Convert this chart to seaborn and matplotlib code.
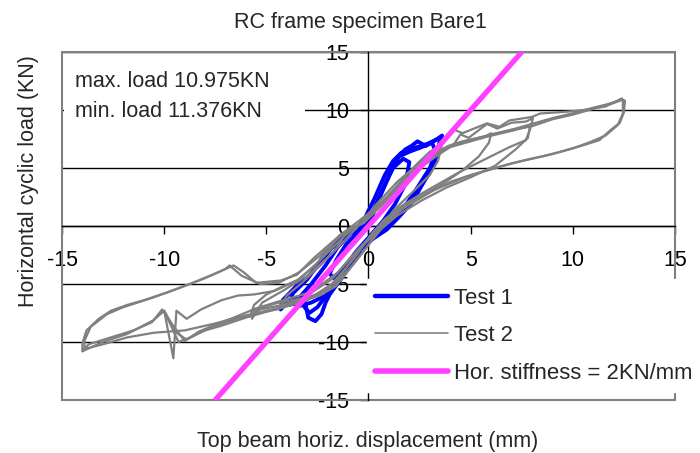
import matplotlib
matplotlib.use("Agg")
import matplotlib.pyplot as plt
import numpy as np
import pandas as pd
import seaborn as sns
from matplotlib.lines import Line2D
from matplotlib.patches import Rectangle

# ---------------- data ----------------
title = "RC frame specimen Bare1"
x_label = "Top beam horiz. displacement (mm)"
y_label = "Horizontal cyclic load (KN)"
note_lines = ["max. load 10.975KN", "min. load 11.376KN"]
legend_labels = ["Test 1", "Test 2", "Hor. stiffness = 2KN/mm"]
ticks = [-15, -10, -5, 0, 5, 10, 15]

# Test 1 (blue) hysteresis loops
t1_a_x = [0.0, 0.4, 0.9, 1.4, 1.8, 2.1, 2.4, 2.8, 3.2, 3.6, 3.5, 3.2, 2.7, 2.2, 1.5, 0.9, 0.3, -0.3, -0.8, -1.4,
          -1.9, -2.1, -2.3, -2.6, -2.95, -3.1, -3.6, -4.0, -4.3, -4.2, -3.6, -2.9, -2.2, -1.6, -1.1, -0.6, -0.2, 0.0]
t1_a_y = [0.2, 1.9, 3.9, 5.9, 6.6, 6.9, 7.3, 6.9, 7.3, 7.8, 6.9, 5.4, 3.8, 2.2, 0.8, -0.3, -1.0, -1.8, -3.2, -4.7,
          -5.9, -6.6, -7.6, -8.2, -7.9, -6.6, -6.2, -6.6, -7.2, -6.4, -5.3, -4.3, -2.8, -1.4, -0.6, -0.4, -0.3, 0.2]
t1_b_x = [0.0, 0.5, 1.0, 1.5, 2.0, 2.6, 3.1, 3.3, 3.0, 2.5, 1.9, 1.2, 0.5, -0.2, -0.9, -1.5, -2.1, -2.8, -3.4,
          -3.3, -2.8, -2.1, -1.5, -0.9, -0.4, 0.0]
t1_b_y = [0.0, 2.3, 4.4, 6.0, 6.4, 6.8, 7.2, 6.4, 5.0, 3.6, 2.0, 0.6, -0.5, -1.5, -3.2, -4.8, -6.0, -6.6, -6.9,
          -6.0, -5.0, -3.4, -1.8, -0.7, -0.2, 0.0]
t1_c_x = [0.0, 0.6, 1.2, 1.7, 2.0, 1.8, 1.3, 0.7, 0.0, -0.6, -1.2, -1.7, -1.9, -1.6, -1.1, -0.5, 0.0]
t1_c_y = [0.4, 2.8, 5.0, 5.8, 5.5, 3.6, 1.9, 0.4, -1.0, -2.2, -3.6, -4.5, -4.1, -3.0, -1.6, -0.5, 0.4]
t1_d_x = [-0.2, 0.3, 0.8, 1.2, 1.6, 2.2, 2.9, 3.5, 3.4, 3.0, 2.4, 1.8, 1.1, 0.4, -0.4, -1.0, -1.7, -2.2, -2.5,
          -2.9, -3.3, -3.9, -3.7, -3.0, -2.2, -1.3, -0.7, -0.2]
t1_d_y = [0.6, 2.4, 4.4, 5.6, 6.3, 6.7, 7.1, 7.6, 6.4, 4.6, 3.0, 1.4, 0.2, -0.8, -2.0, -3.6, -5.2, -6.3, -7.0,
          -7.5, -6.6, -6.8, -5.8, -4.6, -2.6, -1.0, -0.4, 0.6]

# Test 2 (grey) hysteresis loops
t2_a_x = [-1.1, -0.4, 0.1, 0.8, 1.6, 2.4, 3.0, 3.6, 3.4, 3.0, 2.2, 1.2, 0.6, 0.1, -0.6, -1.6, -2.4, -3.2, -4.0,
          -4.3, -4.0, -3.2, -2.3, -1.6, -1.1]
t2_a_y = [-0.6, 0.2, 0.9, 2.3, 3.9, 5.4, 6.4, 7.0, 5.6, 4.4, 3.0, 1.3, -0.3, -1.4, -3.0, -5.2, -6.0, -6.4, -6.7,
          -6.9, -6.0, -4.8, -3.3, -2.0, -0.6]
t2_b_x = [-1.2, -0.3, 0.4, 1.3, 2.3, 3.3, 4.0, 4.8, 5.6, 6.0, 5.9, 5.4, 4.6, 3.6, 2.6, 1.6, 0.8, 0.1, -0.8, -1.8,
          -3.0, -4.2, -5.3, -5.8, -5.6, -5.0, -4.3, -3.4, -2.4, -1.2]
t2_b_y = [-0.9, 0.4, 1.4, 3.0, 4.7, 6.0, 6.8, 7.2, 7.6, 8.0, 7.2, 6.0, 4.8, 3.6, 2.6, 1.4, 0.2, -1.4, -3.4, -5.3,
          -6.2, -6.8, -7.2, -7.8, -6.8, -5.9, -5.3, -4.6, -3.0, -0.9]
t2_c_x = [-1.4, -0.5, 0.3, 1.3, 2.3, 3.3, 4.2, 4.5, 4.9, 5.8, 6.3, 7.0, 7.7, 8.05, 7.9, 7.7, 6.9, 6.1, 5.3, 4.4,
          3.6, 2.6, 1.6, 0.8, 0.1, -0.6, -1.5, -2.6, -3.8, -5.0, -6.0, -7.0, -8.0, -8.7, -9.3, -10.0, -9.55, -9.4,
          -8.9, -8.2, -7.2, -6.4, -5.6, -4.6, -3.5, -2.6, -1.4]
t2_c_y = [-0.8, 0.4, 1.5, 3.2, 4.9, 6.2, 7.1, 7.9, 7.6, 8.8, 8.4, 8.9, 9.0, 9.3, 8.3, 7.4, 6.8, 6.1, 5.4, 4.6,
          3.8, 2.8, 1.7, 0.6, -0.8, -2.4, -4.6, -6.1, -6.8, -7.3, -7.8, -8.3, -9.0, -9.6, -10.0, -7.3, -11.4, -7.3,
          -8.0, -7.2, -6.4, -6.0, -5.9, -5.6, -4.7, -3.4, -0.8]
t2_d_x = [-0.1, 0.6, 1.5, 2.4, 3.2, 3.9, 4.6, 5.6, 6.8, 8.0, 9.0, 10.2, 11.0, 11.7, 12.4, 12.55, 12.5, 12.3, 11.8,
          11.3, 10.4, 9.4, 8.5, 7.7, 6.4, 4.8, 3.2, 1.5, 0.5, -0.4, -1.5, -2.8, -4.2, -5.5, -6.6, -7.5, -8.3, -8.9,
          -9.4, -10.0, -10.5, -11.8, -13.0, -13.5, -14.0, -14.0, -13.8, -13.2, -12.6, -11.8, -11.0, -9.8, -8.6,
          -7.5, -6.6, -6.1, -5.5, -4.3, -3.5, -2.7, -1.4, -0.1]
t2_d_y = [0.5, 1.7, 3.4, 5.0, 6.2, 6.9, 7.3, 7.7, 8.2, 8.8, 9.3, 9.8, 10.2, 10.5, 10.9, 10.8, 9.8, 8.9, 8.2, 7.4,
          6.9, 6.4, 6.0, 5.7, 5.1, 4.25, 3.1, 1.3, -0.2, -1.8, -4.0, -5.7, -6.4, -7.1, -7.9, -8.5, -9.1, -9.8, -9.2,
          -7.3, -8.1, -9.3, -10.0, -10.4, -10.8, -10.1, -9.0, -8.0, -7.3, -6.8, -6.4, -5.7, -4.9, -4.1, -3.4, -4.0,
          -4.9, -4.7, -4.2, -2.8, -0.8, 0.5]
t2_e_x = [-0.2, 0.5, 1.4, 2.5, 3.5, 4.3, 5.0, 6.0, 7.0, 8.0, 9.0, 10.0, 11.0, 12.0, 12.45, 12.45, 12.2, 11.6, 10.8,
          10.0, 9.0, 8.0, 7.0, 6.0, 5.0, 4.0, 3.0, 2.0, 1.0, 0.2, -0.7, -1.8, -3.0, -4.5, -6.0, -7.5, -9.0, -10.5,
          -11.8, -13.0, -13.9, -13.9, -13.6, -12.8, -12.0, -10.6, -9.2, -8.0, -7.0, -6.8, -6.2, -5.3, -4.4, -3.4,
          -2.4, -1.2, -0.2]
t2_e_y = [0.3, 1.6, 3.3, 5.2, 6.5, 7.1, 7.4, 7.9, 8.3, 8.6, 9.2, 9.6, 10.1, 10.6, 10.9, 9.7, 8.7, 7.8, 7.2, 6.7,
          6.2, 5.8, 5.4, 4.9, 4.4, 3.8, 2.9, 2.0, 0.8, -0.6, -2.8, -5.0, -6.4, -7.2, -7.7, -8.4, -9.0, -9.2, -9.6,
          -10.2, -10.6, -9.9, -8.7, -7.6, -7.0, -6.2, -5.3, -4.5, -3.7, -3.4, -4.3, -5.0, -4.9, -4.0, -2.6, -0.6, 0.3]
t2_f_x = [3.6, 4.2, 4.6, 5.8, 6.4, 6.9, 8.0, 8.4, 9.7, 10.5, 11.6, 12.4]
t2_f_y = [7.0, 8.3, 8.0, 8.85, 8.55, 9.1, 9.4, 9.7, 9.85, 10.0, 10.3, 11.0]
t2_g_x = [-4.0, -5.0, -6.0, -7.2, -8.2, -9.0, -9.6, -10.1, -10.6, -11.5, -12.6, -13.7, -14.0]
t2_g_y = [-6.9, -7.4, -7.9, -8.6, -9.1, -9.9, -8.5, -7.2, -8.3, -9.0, -9.6, -10.2, -10.8]
t2_h_x = [-0.6, 0.4, 1.4, 2.6, 3.6, 4.6, 5.8, 7.0, 7.9, 7.8, 7.2, 6.2, 5.0, 3.8, 2.6, 1.4, 0.4, -0.6, -1.8, -3.2,
          -4.6, -5.6, -5.7, -5.2, -4.2, -3.0, -1.8, -0.6]
t2_h_y = [-0.2, 1.9, 3.8, 5.6, 6.6, 7.2, 7.7, 8.2, 8.6, 7.6, 6.6, 5.2, 4.2, 3.3, 2.2, 0.9, -0.6, -2.2, -4.6, -6.2,
          -6.7, -7.3, -8.0, -6.6, -5.6, -4.3, -2.4, -0.2]

# Horizontal stiffness reference line (2 KN/mm)
stiff_x = [-7.5, 7.5]
stiff_y = [-15.0, 15.0]

# ---------------- build tidy table ----------------
loops = {
    ("Test 1", "a"): (t1_a_x, t1_a_y), ("Test 1", "b"): (t1_b_x, t1_b_y), ("Test 1", "c"): (t1_c_x, t1_c_y),
    ("Test 1", "d"): (t1_d_x, t1_d_y),
    ("Test 2", "a"): (t2_a_x, t2_a_y), ("Test 2", "b"): (t2_b_x, t2_b_y), ("Test 2", "c"): (t2_c_x, t2_c_y),
    ("Test 2", "d"): (t2_d_x, t2_d_y), ("Test 2", "e"): (t2_e_x, t2_e_y), ("Test 2", "f"): (t2_f_x, t2_f_y),
    ("Test 2", "g"): (t2_g_x, t2_g_y), ("Test 2", "h"): (t2_h_x, t2_h_y),
}
frames = []
for (series, loop), (xs, ys) in loops.items():
    frames.append(pd.DataFrame({"x": xs, "y": ys, "series": series, "loop": series + loop}))
df = pd.concat(frames, ignore_index=True)

# ---------------- style ----------------
sns.set_theme(style="white")
plt.rcParams["font.family"] = ["Liberation Sans", "DejaVu Sans"]
plt.rcParams["axes.unicode_minus"] = False
FS = 15.5

W, H = 700, 453
fig = plt.figure(figsize=(W / 100, H / 100), dpi=100)
L, R, T, B = 62, 675, 52, 400
ax = fig.add_axes([L / W, 1 - B / H, (R - L) / W, (B - T) / H])

blue, grey, pink = "#0000FF", "#808080", "#FF40FF"
sns.lineplot(data=df[df.series == "Test 1"], x="x", y="y", units="loop", estimator=None, sort=False,
             color=blue, linewidth=2.8, ax=ax, legend=False, zorder=3)
sns.lineplot(data=df[df.series == "Test 2"], x="x", y="y", units="loop", estimator=None, sort=False,
             color=grey, linewidth=1.6, ax=ax, legend=False, zorder=4)
sns.lineplot(x=stiff_x, y=stiff_y, estimator=None, sort=False, color=pink, linewidth=3.8, ax=ax,
             legend=False, zorder=5)

ax.set_xlim(-15, 15)
ax.set_ylim(-15, 15)
ax.set_xticks(ticks)
ax.set_yticks(ticks)
ax.set_xlabel("")
ax.set_ylabel("")
ax.set_axisbelow(True)
ax.yaxis.grid(True, color="black", linewidth=1.0)
ax.xaxis.grid(False)

for s in ["top", "right"]:
    ax.spines[s].set_visible(False)
for s in ["left", "bottom"]:
    ax.spines[s].set_position(("data", 0))
    ax.spines[s].set_color("black")
    ax.spines[s].set_linewidth(1.0)
    ax.spines[s].set_zorder(2.5)
ax.add_patch(Rectangle((0, 0), 1, 1, transform=ax.transAxes, fill=False, edgecolor=grey,
                       linewidth=1.5, zorder=1, clip_on=False))

ax.tick_params(axis="x", direction="out", length=6, width=1, pad=11.5, labelsize=FS, colors="black",
               bottom=True)
ax.tick_params(axis="y", direction="out", length=6, width=1, pad=8, labelsize=FS, colors="black",
               left=True)

# legend
handles = [Line2D([], [], color=blue, linewidth=3.2), Line2D([], [], color=grey, linewidth=1.2),
           Line2D([], [], color=pink, linewidth=4.0)]
leg = ax.legend(handles, legend_labels, loc="upper left", bbox_to_anchor=(366.5 / W, 1 - 279 / H),
                bbox_transform=fig.transFigure, frameon=True, fancybox=False, framealpha=1,
                edgecolor="white", facecolor="white", fontsize=15.9, handlelength=3.3,
                handletextpad=0.25, borderpad=0.4, labelspacing=0.74, borderaxespad=0)
leg.set_zorder(10)

# note box
ax.add_patch(Rectangle((64 / W, 1 - 125 / H), (305 - 64) / W, (125 - 62) / H, transform=fig.transFigure,
                       facecolor="white", edgecolor="none", zorder=6, clip_on=False))
fig.text(75 / W, 1 - 87 / H, note_lines[0], fontsize=FS, va="baseline", ha="left", zorder=7)
fig.text(75 / W, 1 - 117 / H, note_lines[1], fontsize=FS, va="baseline", ha="left", zorder=7)

# titles
fig.text(360 / W, 1 - 28 / H, title, fontsize=FS, ha="center", va="baseline")
fig.text(368 / W, 1 - 447 / H, x_label, fontsize=FS, ha="center", va="baseline")
fig.text(29 / W, 1 - 307 / H, y_label, fontsize=FS, ha="center", va="bottom", rotation=90)

fig.savefig("out.png", dpi=100)
